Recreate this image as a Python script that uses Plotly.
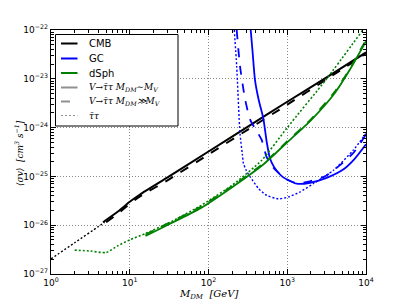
import plotly.graph_objects as go

# log10(M_DM/GeV) and log10(<sigma v>/(cm^3 s^-1))
cmb_solid_x = [0.66, 0.85, 1.0, 1.13, 1.5, 2.0, 2.5, 3.0, 3.5, 4.0]
cmb_solid_y = [-25.94, -25.72, -25.52, -25.37, -25.0, -24.49, -23.98, -23.47, -22.97, -22.46]
cmb_dash_x = [0.70, 0.85, 1.0, 1.13, 1.5, 2.0, 2.5, 3.0, 3.5, 4.0]
cmb_dash_y = [-25.94, -25.76, -25.56, -25.41, -25.06, -24.55, -24.04, -23.53, -23.01, -22.48]
cmb_dot_x = [0.0, 0.3, 0.6, 0.68]
cmb_dot_y = [-26.69, -26.36, -26.03, -25.94]

gc_solid_x = [2.536, 2.56, 2.59, 2.64, 2.696, 2.74, 2.78, 2.83, 2.89, 2.95, 3.017, 3.12, 3.29, 3.5, 3.71, 3.85, 4.0]
gc_solid_y = [-22.0, -22.45, -23.02, -23.45, -23.81, -24.3, -24.63, -24.8, -24.93, -25.02, -25.08, -25.15, -25.13, -25.03, -24.86, -24.65, -24.34]
gc_dash_x = [2.358, 2.40, 2.466, 2.53, 2.63, 2.675, 2.737, 2.78, 2.83, 2.89, 2.95, 3.017, 3.12, 3.29, 3.5, 3.67, 3.85, 4.0]
gc_dash_y = [-22.0, -22.74, -23.43, -23.84, -24.12, -24.25, -24.6, -24.72, -24.83, -24.93, -25.02, -25.08, -25.14, -25.1, -24.98, -24.77, -24.5, -24.14]
gc_dot_x = [2.327, 2.358, 2.40, 2.43, 2.443, 2.48, 2.53, 2.636, 2.74, 2.89, 3.017, 3.16, 3.33, 3.59, 3.84, 4.0]
gc_dot_y = [-22.0, -22.74, -24.12, -24.55, -24.73, -24.88, -25.01, -25.25, -25.39, -25.46, -25.42, -25.32, -25.15, -24.87, -24.46, -24.12]

ds_solid_x = [1.2, 1.5, 1.9, 2.3, 2.7, 3.0, 3.3, 3.6, 3.8, 4.0]
ds_solid_y = [-26.22, -25.98, -25.65, -25.22, -24.75, -24.3, -23.85, -23.3, -22.8, -22.23]
ds_dash_x = [1.2, 1.5, 1.9, 2.3, 2.7, 3.0, 3.3, 3.6, 3.8, 4.0]
ds_dash_y = [-26.19, -25.95, -25.62, -25.2, -24.73, -24.28, -23.83, -23.27, -22.78, -22.2]
ds_dot_x = [0.301, 0.5, 0.7, 0.85, 1.0, 1.2, 1.5, 1.9, 2.3, 2.675, 3.0, 3.5, 3.96]
ds_dot_y = [-26.51, -26.53, -26.56, -26.42, -26.3, -26.17, -25.95, -25.6, -25.18, -24.67, -24.0, -23.0, -22.0]

x_tick_vals = [0, 1, 2, 3, 4]
x_tick_text = ["10<sup>0</sup>", "10<sup>1</sup>", "10<sup>2</sup>", "10<sup>3</sup>", "10<sup>4</sup>"]
y_tick_vals = [-27, -26, -25, -24, -23, -22]
y_tick_text = ["10<sup>−27</sup>", "10<sup>−26</sup>", "10<sup>−25</sup>", "10<sup>−24</sup>", "10<sup>−23</sup>", "10<sup>−22</sup>"]

legend_names = ["CMB", "GC", "dSph",
                "<i>V→τ̄τ M<sub>DM</sub>∼M<sub>V</sub></i>",
                "<i>V→τ̄τ M<sub>DM</sub>≫M<sub>V</sub></i>",
                "<i>τ̄τ</i>"]

def p(v):
    return [10 ** a for a in v]

def minor_vals(lo, hi):
    return [m * 10 ** e for e in range(lo, hi) for m in range(2, 10)]

BLACK, BLUE, GREEN, GREY = "#000000", "#0000ff", "#008000", "#909090"
DOT = "2px,2px"

W, H = 407, 305
ML, MR, MT, MB = 51, 41, 30, 31
PW, PH = W - ML - MR, H - MT - MB

def px(x):  # pixel -> paper x
    return (x - ML) / PW

def py(y):  # pixel -> paper y
    return (H - MB - y) / PH

fig = go.Figure()
traces = [
    (cmb_solid_x, cmb_solid_y, BLACK, "solid", 2.0),
    (cmb_dash_x, cmb_dash_y, BLACK, "dash", 2.0),
    (cmb_dot_x, cmb_dot_y, BLACK, DOT, 1.4),
    (gc_solid_x, gc_solid_y, BLUE, "solid", 1.8),
    (gc_dash_x, gc_dash_y, BLUE, "dash", 1.8),
    (gc_dot_x, gc_dot_y, BLUE, DOT, 1.4),
    (ds_solid_x, ds_solid_y, GREEN, "solid", 1.8),
    (ds_dash_x, ds_dash_y, GREEN, "dash", 1.8),
    (ds_dot_x, ds_dot_y, GREEN, DOT, 1.6),
]
for xs, ys, c, d, w in traces:
    fig.add_trace(go.Scatter(x=p(xs), y=p(ys), mode="lines", showlegend=False,
                             line=dict(color=c, dash=d, width=w, shape="spline", smoothing=0.6)))

# legend box drawn by hand (compact, matplotlib-like)
legend_styles = [(BLACK, "solid", 2), (BLUE, "solid", 2), (GREEN, "solid", 2),
                 (GREY, "solid", 2), (GREY, "dash", 2), (GREY, DOT, 1.2)]
fig.add_shape(type="rect", xref="paper", yref="paper",
              x0=px(55.5), x1=px(178), y0=py(126), y1=py(34.5),
              line=dict(color="black", width=1), fillcolor="white", layer="above")
row_y = [43.5, 58.5, 73, 87.5, 101.5, 115.5]
for name, (c, d, w), ry in zip(legend_names, legend_styles, row_y):
    fig.add_shape(type="line", xref="paper", yref="paper",
                  x0=px(61), x1=px(77.5), y0=py(ry), y1=py(ry),
                  line=dict(color=c, dash=d, width=w), layer="above")
    is_math = name.startswith("<i>")
    fig.add_annotation(xref="paper", yref="paper", x=px(86.5), y=py(ry),
                       xanchor="left", yanchor="middle", showarrow=False, text=name,
                       font=dict(family="DejaVu Serif" if is_math else "DejaVu Sans",
                                 size=9 if is_math else 10, color="black"))

axis_common = dict(type="log", showline=True, linecolor="black", linewidth=1.2, mirror="ticks",
                   ticks="inside", ticklen=5, tickcolor="black", automargin=False,
                   showgrid=True, gridcolor="#888888", griddash="1px,2px", gridwidth=1,
                   zeroline=False,
                   tickfont=dict(family="DejaVu Sans", size=9, color="black"))

fig.update_xaxes(range=[0, 4], tickvals=p(x_tick_vals), ticktext=x_tick_text,
                 minor=dict(tickmode="array", tickvals=minor_vals(0, 4), ticks="inside",
                            ticklen=2.5, tickcolor="black", showgrid=False),
                 **axis_common)
fig.update_yaxes(range=[-27, -22], tickvals=p(y_tick_vals), ticktext=y_tick_text,
                 minor=dict(tickmode="array", tickvals=minor_vals(-27, -22), ticks="inside",
                            ticklen=2.5, tickcolor="black", showgrid=False),
                 **axis_common)

fig.add_annotation(xref="paper", yref="paper", x=0.5, y=py(294), xanchor="center", yanchor="middle",
                   showarrow=False, text="<i>M<sub>DM</sub>  [GeV]</i>",
                   font=dict(family="DejaVu Serif", size=10, color="black"))
fig.add_annotation(xref="paper", yref="paper", x=px(19), y=py(153), xanchor="center", yanchor="middle",
                   showarrow=False, textangle=-90, text="<i>⟨σv⟩  [cm<sup>3</sup> s<sup>−1</sup>]</i>",
                   font=dict(family="DejaVu Serif", size=9, color="black"))

fig.update_layout(
    width=W, height=H,
    margin=dict(l=ML, r=MR, t=MT, b=MB, autoexpand=False),
    paper_bgcolor="white", plot_bgcolor="white",
    showlegend=False,
)

fig.write_html("out.html", config={"displayModeBar": False},
               post_script="document.body.style.margin='0';")
